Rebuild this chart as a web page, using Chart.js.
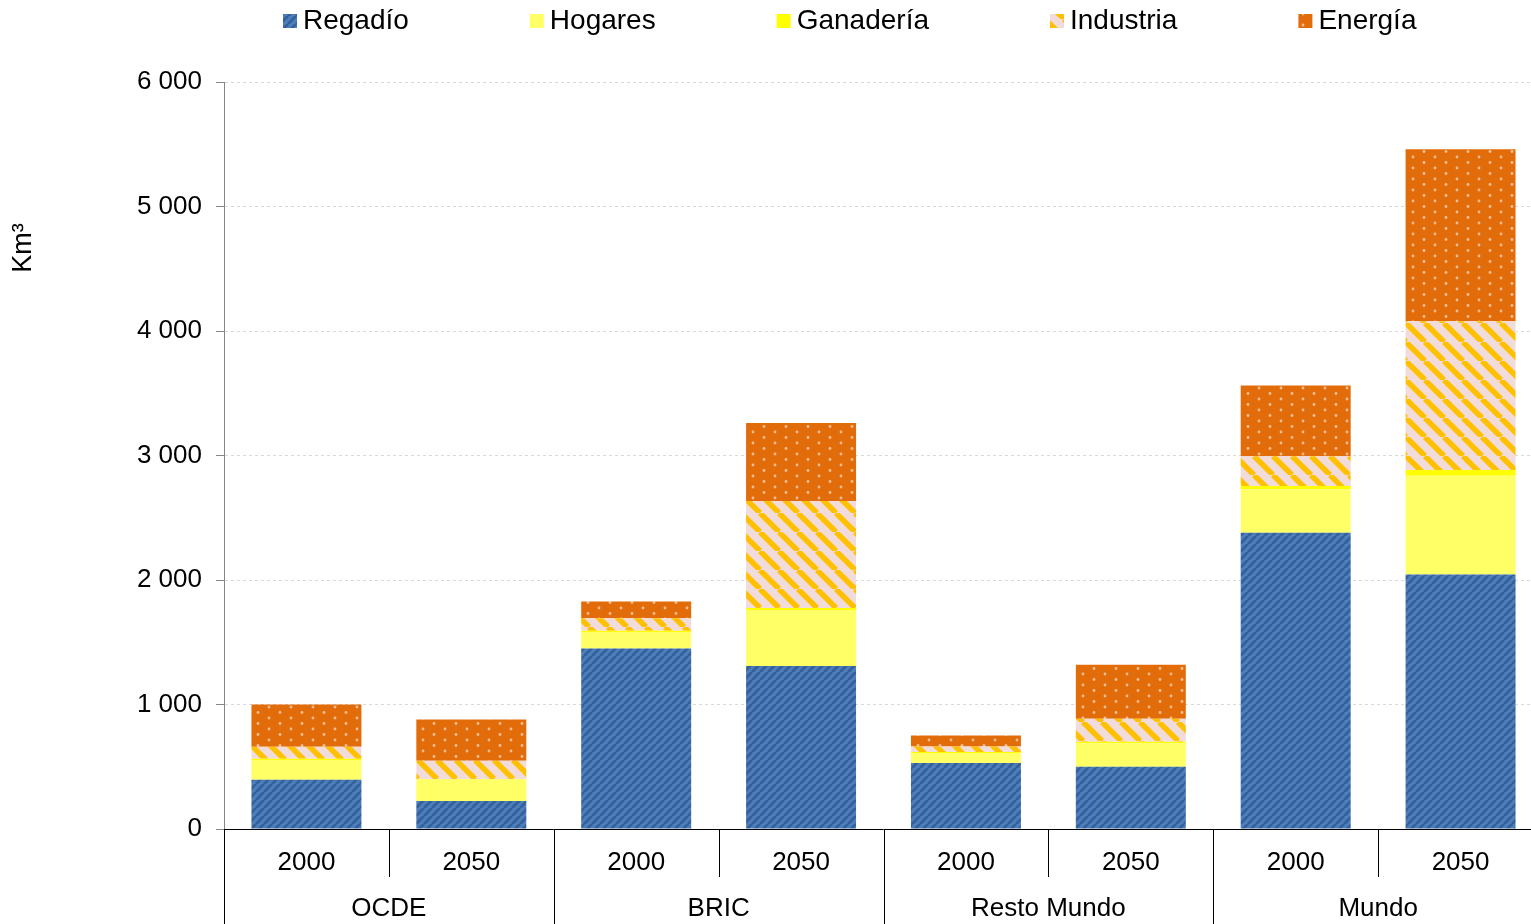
<!DOCTYPE html>
<html>
<head>
<meta charset="utf-8">
<script src="https://cdn.jsdelivr.net/npm/chart.js@4.4.1/dist/chart.umd.min.js"></script>
<style>
  html, body { margin: 0; padding: 0; background: #fff; overflow: hidden; }
  #contenedor { width: 1543px; height: 924px; }
</style>
</head>
<body>
<div id="contenedor"><canvas id="grafico"></canvas></div>
<script>
// Datos (km3)
const anos = ['2000', '2050', '2000', '2050', '2000', '2050', '2000', '2050'];
const grupos = ['OCDE', 'BRIC', 'Resto Mundo', 'Mundo'];
const regadio   = [395, 225, 1450, 1310, 530, 500, 2380, 2045];
const hogares   = [160, 172, 133, 450, 80, 188, 348, 792];
const ganaderia = [10, 5, 10, 15, 8, 12, 27, 46];
const industria = [95, 147, 100, 860, 45, 185, 238, 1196];
const energia   = [340, 330, 135, 626, 88, 434, 570, 1381];
const ticksY = [0, 1000, 2000, 3000, 4000, 5000, 6000];

const fuente = "'Liberation Sans', Arial, sans-serif";
const ctx = document.getElementById('grafico').getContext('2d');

// Tramas para rellenar las barras
function trama(w, h, dibujar) {
    const c = document.createElement('canvas');
    c.width = w;
    c.height = h;
    dibujar(c.getContext('2d'), w, h);
    return ctx.createPattern(c, 'repeat');
}

const tramaRegadio = trama(8, 8, (g, w, h) => {
    g.fillStyle = '#4C7FBC';
    g.fillRect(0, 0, w, h);
    g.strokeStyle = '#36609A';
    g.lineWidth = 3;
    for (const k of [-w, 0, w]) {
        g.beginPath();
        g.moveTo(k, h);
        g.lineTo(k + w, 0);
        g.stroke();
    }
});

const tramaIndustria = trama(19, 19, (g, w, h) => {
    g.fillStyle = '#F2DCDB';
    g.fillRect(0, 0, w, h);
    g.strokeStyle = '#FFC000';
    g.lineWidth = 5.5;
    for (const k of [-w, 0, w]) {
        g.beginPath();
        g.moveTo(k, 0);
        g.lineTo(k + w, h);
        g.stroke();
    }
});

const tramaEnergia = trama(22, 11, (g, w, h) => {
    g.fillStyle = '#E36C0A';
    g.fillRect(0, 0, w, h);
    g.fillStyle = '#F7BE93';
    for (const [x, y] of [[5, 3], [16, 8.5]]) {
        g.beginPath();
        g.arc(x, y, 1.4, 0, Math.PI * 2);
        g.fill();
    }
});

// Leyenda, ejes auxiliares y etiquetas de grupo
const extras = {
    id: 'extras',
    afterDraw(chart) {
        const c = chart.ctx;
        const x = chart.scales.x;
        const area = chart.chartArea;
        const ancho = (x.getPixelForValue(1) - x.getPixelForValue(0));

        c.save();
        // separadores del eje de categorías
        c.strokeStyle = '#000';
        c.lineWidth = 1;
        for (let i = 0; i <= anos.length; i++) {
            const px = Math.round(x.getPixelForValue(0) - ancho / 2 + i * ancho) + 0.5;
            const fin = (i % 2 === 0) ? chart.height : area.bottom + 48;
            c.beginPath();
            c.moveTo(px, area.bottom);
            c.lineTo(px, fin);
            c.stroke();
        }
        // eje X
        c.beginPath();
        c.moveTo(area.left, area.bottom + 0.5);
        c.lineTo(area.right, area.bottom + 0.5);
        c.stroke();

        // grupos
        c.fillStyle = '#000';
        c.font = '26px ' + fuente;
        c.textAlign = 'center';
        c.textBaseline = 'middle';
        grupos.forEach((gr, i) => {
            const px = (x.getPixelForValue(2 * i) + x.getPixelForValue(2 * i + 1)) / 2;
            c.fillText(gr, px, 909);
        });

        // título del eje Y
        c.save();
        c.translate(24, 248);
        c.rotate(-Math.PI / 2);
        c.font = '27px ' + fuente;
        c.fillText('Km³', 0, 0);
        c.restore();

        // leyenda
        c.font = '28px ' + fuente;
        c.textAlign = 'left';
        let lx = 283;
        chart.data.datasets.forEach(ds => {
            c.fillStyle = ds.backgroundColor;
            c.fillRect(lx, 14, 14, 14);
            c.fillStyle = '#000';
            c.fillText(ds.label, lx + 20, 21);
            lx += 20 + c.measureText(ds.label).width + 121;
        });
        c.restore();
    }
};

new Chart(ctx, {
    type: 'bar',
    data: {
        labels: anos,
        datasets: [
            { label: 'Regadío', data: regadio, backgroundColor: tramaRegadio },
            { label: 'Hogares', data: hogares, backgroundColor: '#FFFF66' },
            { label: 'Ganadería', data: ganaderia, backgroundColor: '#FFFF00' },
            { label: 'Industria', data: industria, backgroundColor: tramaIndustria },
            { label: 'Energía', data: energia, backgroundColor: tramaEnergia }
        ]
    },
    options: {
        responsive: true,
        maintainAspectRatio: false,
        animation: false,
        datasets: {
            bar: { categoryPercentage: 1, barPercentage: 0.667, borderWidth: 0 }
        },
        layout: { padding: { top: 82, left: 0, right: 0, bottom: 0 } },
        plugins: {
            legend: { display: false },
            tooltip: { enabled: false }
        },
        scales: {
            x: {
                stacked: true,
                grid: { display: false, drawTicks: false, tickLength: 0 },
                border: { display: false },
                ticks: { color: '#000', font: { family: fuente, size: 26 }, padding: 18, maxRotation: 0 },
                afterFit(scale) { scale.height = 95; }
            },
            y: {
                stacked: true,
                min: 0,
                max: 6000,
                afterBuildTicks(scale) { scale.ticks = ticksY.map(v => ({ value: v })); },
                grid: { color: '#D9D9D9', tickColor: '#868686', tickLength: 8 },
                border: { color: '#868686', dash: [3, 3] },
                ticks: {
                    color: '#000',
                    padding: 14,
                    font: { family: fuente, size: 26 },
                    callback: v => v.toLocaleString('fr-FR').replace(/\u202f|\u00a0/g, ' ')
                },
                afterFit(scale) { scale.width = 224; }
            }
        }
    },
    plugins: [extras]
});
</script>
</body>
</html>
